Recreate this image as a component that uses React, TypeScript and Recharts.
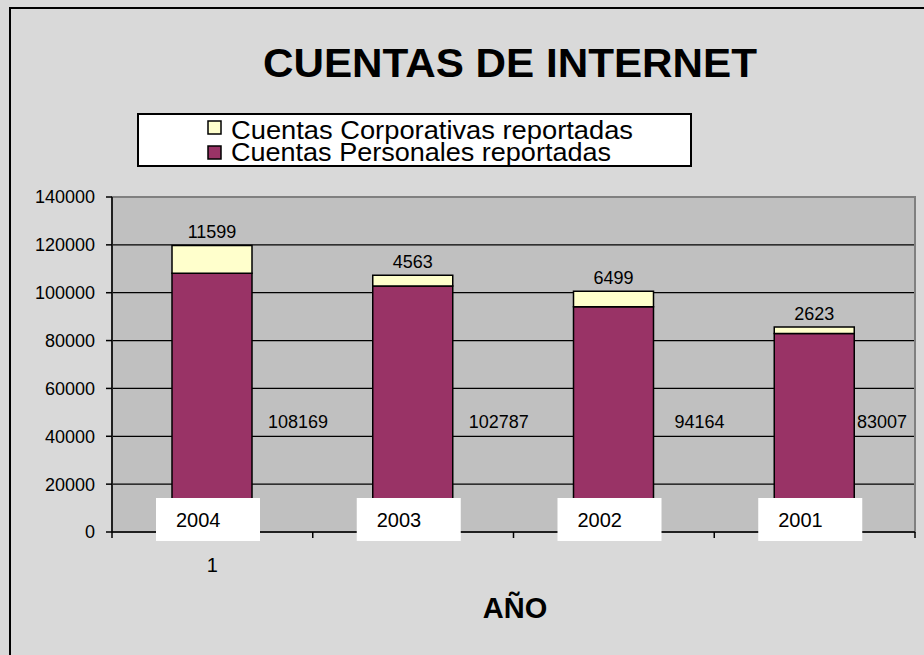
import { BarChart, Bar, XAxis, YAxis, CartesianGrid, ReferenceArea, Legend, LabelList } from 'recharts';

const years = ['2004', '2003', '2002', '2001'];
const personal = [108169, 102787, 94164, 83007];
const corporate = [11599, 4563, 6499, 2623];
const yTicks = [0, 20000, 40000, 60000, 80000, 100000, 120000, 140000];

const legendItems = [
  { name: 'Cuentas Corporativas reportadas', color: '#ffffcc', textWidth: 402 },
  { name: 'Cuentas Personales reportadas', color: '#993366', textWidth: 380 },
];

const data = years.map((year, i) => ({ year, personal: personal[i], corporate: corporate[i] }));

const FONT = '"Liberation Sans", Arial, sans-serif';
const W = 924;
const H = 655;
const PLOT_LEFT = 112;
const PLOT_RIGHT = 915;

const AxisTick = (props: any) => {
  const { x, y, index } = props;
  const half = (PLOT_RIGHT - PLOT_LEFT) / years.length / 2;
  return (
    <g>
      <line x1={x - half} x2={x - half} y1={y} y2={y + 6} stroke="#000" strokeWidth={1.5} />
      {index === years.length - 1 && (
        <line x1={x + half} x2={x + half} y1={y} y2={y + 6} stroke="#000" strokeWidth={1.5} />
      )}
      {index === 0 && (
        <text x={x} y={y + 40} textAnchor="middle" fontSize={20} fontFamily={FONT} fill="#000">
          1
        </text>
      )}
    </g>
  );
};

const PersonalValue = (props: any) => {
  const x = Number(props.x), y = Number(props.y), w = Number(props.width), h = Number(props.height);
  const cx = Math.min(x + w / 2 + 86, 882);
  return (
    <text x={cx} y={y + h - 104} textAnchor="middle" fontSize={18} fontFamily={FONT} fill="#000">
      {props.value}
    </text>
  );
};

const YearBox = (props: any) => {
  const x = Number(props.x), y = Number(props.y), h = Number(props.height);
  const base = y + h;
  return (
    <g>
      <rect x={x - 16} y={base - 34} width={104} height={43} fill="#fff" />
      <text x={x + 4} y={base - 5} fontSize={20} fontFamily={FONT} fill="#000">
        {props.value}
      </text>
    </g>
  );
};

const LegendBox = () => (
  <svg width={555} height={54} style={{ display: 'block' }}>
    <rect x={1} y={1} width={553} height={52} fill="#fff" stroke="#000" strokeWidth={2} />
    {legendItems.map((item, i) => (
      <g key={item.name}>
        <rect x={71} y={8 + i * 25} width={13} height={13} fill={item.color} stroke="#000" strokeWidth={1.5} />
        <text
          x={94}
          y={26 + i * 22}
          fontSize={25}
          fontFamily={FONT}
          fill="#000"
          textLength={item.textWidth}
          lengthAdjust="spacingAndGlyphs"
        >
          {item.name}
        </text>
      </g>
    ))}
  </svg>
);

export default function App() {
  return (
    <div style={{ position: 'fixed', left: 0, top: 0, width: W, height: H, background: '#d9d9d9', overflow: 'hidden' }}>
      <div
        style={{
          position: 'absolute',
          left: 9,
          top: 7,
          width: 1200,
          height: 1200,
          borderLeft: '2px solid #000',
          borderTop: '2px solid #000',
        }}
      />
      <svg width={W} height={H} style={{ position: 'absolute', left: 0, top: 0 }}>
        <text
          x={263}
          y={77}
          fontSize={41}
          fontWeight="bold"
          fontFamily={FONT}
          fill="#000"
          textLength={494}
          lengthAdjust="spacingAndGlyphs"
        >
          CUENTAS DE INTERNET
        </text>
        <text x={515} y={618} textAnchor="middle" fontSize={29} fontWeight="bold" fontFamily={FONT} fill="#000">
          AÑO
        </text>
      </svg>
      <div style={{ position: 'absolute', left: 0, top: 0 }}>
        <BarChart width={W} height={H} data={data} margin={{ top: 197, right: W - PLOT_RIGHT, bottom: 93, left: 0 }}>
          <CartesianGrid vertical={false} stroke="#000" strokeWidth={1.2} fill="#c0c0c0" fillOpacity={1} />
          <ReferenceArea y1={0} y2={140000} fill="none" stroke="#808080" strokeWidth={2} />
          <XAxis
            dataKey="year"
            height={30}
            axisLine={{ stroke: '#000', strokeWidth: 1.5 }}
            tickLine={false}
            tickSize={0}
            tickMargin={0}
            interval={0}
            tick={<AxisTick />}
          />
          <YAxis
            domain={[0, 140000]}
            ticks={yTicks}
            interval={0}
            width={PLOT_LEFT}
            axisLine={{ stroke: '#000', strokeWidth: 1.5 }}
            tickLine={{ stroke: '#000', strokeWidth: 1.5 }}
            tickSize={6}
            tickMargin={11}
            tick={{ fill: '#000', fontSize: 18, fontFamily: FONT }}
          />
          <Legend
            layout="horizontal"
            verticalAlign="middle"
            align="center"
            content={<LegendBox />}
            wrapperStyle={{ position: 'absolute', left: 137, top: 113, width: 555, height: 54 }}
          />
          <Bar dataKey="personal" stackId="a" fill="#993366" stroke="#000" strokeWidth={1.5} barSize={80} isAnimationActive={false}>
            <LabelList dataKey="personal" content={<PersonalValue />} />
            <LabelList dataKey="year" content={<YearBox />} />
          </Bar>
          <Bar dataKey="corporate" stackId="a" fill="#ffffcc" stroke="#000" strokeWidth={1.5} barSize={80} isAnimationActive={false}>
            <LabelList dataKey="corporate" position="top" offset={7} fill="#000" fontSize={18} fontFamily={FONT} />
          </Bar>
        </BarChart>
      </div>
    </div>
  );
}
